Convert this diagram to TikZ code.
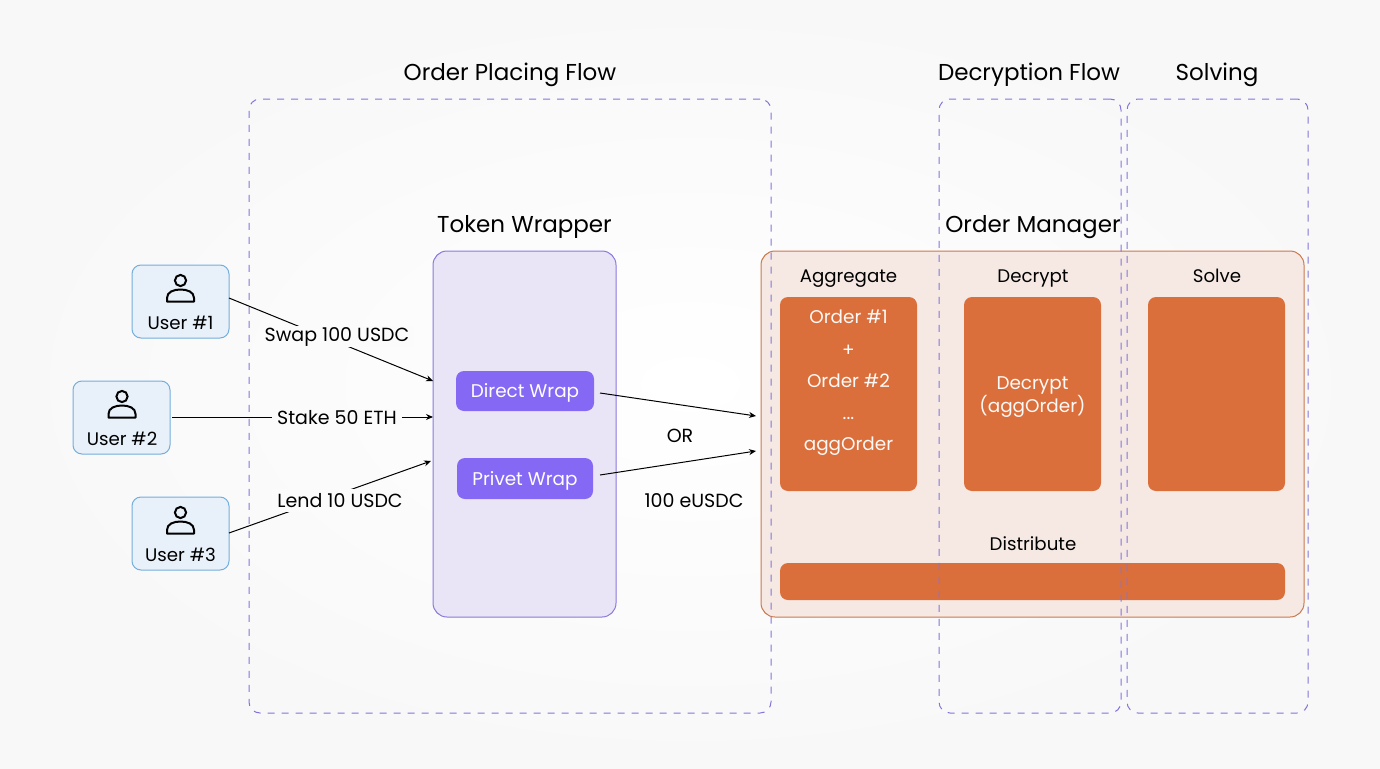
\documentclass[tikz,border=0pt]{standalone}
\usepackage{fontspec}
\setmainfont{Poppins}
\usetikzlibrary{arrows.meta,positioning}
\definecolor{bgc}{HTML}{F8F8F9}
\definecolor{labc}{HTML}{FBFBFC}
\definecolor{dashc}{HTML}{8374DA}
\definecolor{twfill}{HTML}{E9E5F6}
\definecolor{twline}{HTML}{8A78DC}
\definecolor{omfill}{HTML}{F6E9E3}
\definecolor{omline}{HTML}{C9784C}
\definecolor{wrapc}{HTML}{8569F5}
\definecolor{orangec}{HTML}{DA6F3C}
\definecolor{userfill}{HTML}{E8F1FA}
\definecolor{userline}{HTML}{74AEDB}
\tikzset{
  x=1pt,y=-1pt,
  boxat/.style n args={4}{minimum width=#3-#1,minimum height=#4-#2,anchor=north west,inner sep=0pt,outer sep=0pt},
  flowbox/.style={draw=dashc,line width=1pt,dash pattern=on 7pt off 7pt,rounded corners=11pt},
  panelTW/.style={draw=twline,fill=twfill,line width=1pt,rounded corners=14pt},
  panelOM/.style={draw=omline,fill=omfill,line width=1pt,rounded corners=14pt},
  wrapbox/.style={fill=wrapc,rounded corners=8pt,minimum height=40pt},
  orangebox/.style={fill=orangec,rounded corners=8pt},
  userbox/.style={draw=userline,fill=userfill,line width=1pt,rounded corners=9pt},
  title/.style={font=\fontsize{23}{27}\selectfont,text=black,inner sep=0pt},
  sub/.style={font=\fontsize{18.2}{22}\selectfont,text=black,inner sep=0pt},
  lab/.style={font=\fontsize{19}{22}\selectfont,text=black,fill=labc,inner xsep=5pt,inner ysep=1pt},
  big sub/.style={font=\fontsize{19}{22}\selectfont,text=black,inner sep=0pt},
  white text/.style={font=\fontsize{18.4}{22}\selectfont,text=white!96!orangec,inner sep=0pt},
  wrap text/.style={font=\fontsize{18.4}{22}\selectfont,text=white,inner sep=0pt},
  conn/.style={draw=black,line width=1pt,-{Stealth[length=7pt,width=6pt]}},
}
\newcommand{\usericon}[2]{%
  \draw[line width=2pt] (#1,#2-8.5) circle (5.6);
  \draw[line width=2pt,line join=round] (#1-13.5,#2+12.5) -- (#1+13.5,#2+12.5) -- (#1+13.5,#2+9)
    .. controls (#1+13.5,#2+3) and (#1+7,#2+0.5) .. (#1,#2+0.5)
    .. controls (#1-7,#2+0.5) and (#1-13.5,#2+3) .. (#1-13.5,#2+9) -- cycle;
}
\begin{document}
\begin{tikzpicture}
\useasboundingbox (0,0) rectangle (1380,768);
\shade[inner color=white,outer color=bgc] (0,0) rectangle (1380,768);
% panels
\node[panelTW,boxat={433}{251}{616}{617}] (tw) at (433,251) {};
\node[panelOM,boxat={761}{251}{1304}{617}] (om) at (761,251) {};
% flows
\node[flowbox,boxat={249}{99}{771}{713}] (f1) at (249,99) {};
\node[title,anchor=base] (t1) at (510,80) {Order Placing Flow};
\node[title,anchor=base] (t2) at (1029,80) {Decryption Flow};
\node[title,anchor=base] (t3) at (1217,80) {Solving};
\node[title,anchor=base] (t4) at (524.5,232) {Token Wrapper};
\node[title,anchor=base] (t5) at (1033,232) {Order Manager};
% wraps
\node[wrapbox,boxat={456}{371}{594}{411}] (dw) at (456,371) {};
\node[wrapbox,boxat={457}{458}{593}{499}] (pw) at (457,458) {};
\node[wrap text,anchor=base] (dwt) at (525,397) {Direct Wrap};
\node[wrap text,anchor=base] (pwt) at (525,485) {Privet Wrap};
% orange
\node[sub,anchor=base] (a0) at (848.5,282) {Aggregate};
\node[sub,anchor=base] (a1) at (1033,282) {Decrypt};
\node[sub,anchor=base] (a2) at (1217,282) {Solve};
\node[sub,anchor=base] (a3) at (1033,550.5) {Distribute};
\node[orangebox,boxat={780}{297}{917}{491}] (b1) at (780,297) {};
\node[orangebox,boxat={964}{297}{1101}{491}] (b2) at (964,297) {};
\node[orangebox,boxat={1148}{297}{1285}{491}] (b3) at (1148,297) {};
\node[orangebox,boxat={780}{563}{1285}{600}] (b4) at (780,563) {};
\node[white text,anchor=base] (o1) at (848.5,323.5) {Order \#1};
\node[white text,anchor=base] (o2) at (848.5,356) {+};
\node[white text,anchor=base] (o3) at (848.5,387.5) {Order \#2};
\node[white text,anchor=base] (o4) at (848.5,419) {...};
\node[white text,anchor=base] (o5) at (848.5,450) {aggOrder};
\node[white text,anchor=base] (d1) at (1032.5,389) {Decrypt};
\node[white text,anchor=base] (d2) at (1032.5,412) {(aggOrder)};
% flows over the manager
\node[flowbox,boxat={939}{99}{1121}{713}] (f2) at (939,99) {};
\node[flowbox,boxat={1127}{99}{1308}{713}] (f3) at (1127,99) {};
% users
\node[userbox,boxat={132}{265}{229}{338}] (u1) at (132,265) {};
\node[userbox,boxat={73}{381}{170}{454}] (u2) at (73,381) {};
\node[userbox,boxat={132}{497}{229}{570}] (u3) at (132,497) {};
\usericon{180.5}{289}
\usericon{122}{405}
\usericon{180.5}{521}
\node[sub,anchor=base] (n1) at (180.5,329) {User \#1};
\node[sub,anchor=base] (n2) at (122,445) {User \#2};
\node[sub,anchor=base] (n3) at (180.5,561) {User \#3};
% connectors
\coordinate (e1) at (433,381);
\coordinate (e2) at (433,417);
\coordinate (e3) at (431,461);
\coordinate (e4) at (756,416);
\coordinate (e5) at (756,451);
\coordinate (s1) at (229,298);
\coordinate (s2) at (172,417);
\coordinate (s3) at (229,533);
\coordinate (s4) at (600,393);
\coordinate (s5) at (600,475);
\draw[conn] (s1) -- (e1);
\draw[conn] (s2) -- (e2);
\draw[conn] (s3) -- (e3);
\draw[conn] (s4) -- (e4);
\draw[conn] (s5) -- (e5);
\node[lab,anchor=base] (l1) at (337,341) {Swap 100 USDC};
\node[lab,anchor=base] (l2) at (337,424) {Stake 50 ETH};
\node[lab,anchor=base,inner ysep=4.5pt] (l3) at (340,507.5) {Lend 10 USDC};
\node[big sub,anchor=base] (l4) at (680,442) {OR};
\node[big sub,anchor=base] (l5) at (694,507) {100 eUSDC};
\end{tikzpicture}
\end{document}
